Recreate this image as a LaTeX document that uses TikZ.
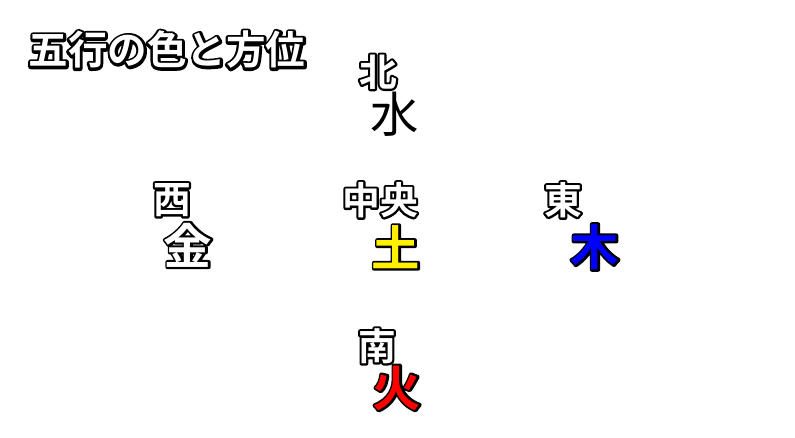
\documentclass[tikz,border=0pt]{standalone}
\usepackage{fontspec}
\newfontfamily\jp{Noto Sans CJK JP}[BoldFont={Noto Sans CJK JP Bold}]
% outlined text: black stroke of width #2 (bp) under a fill in #1
\newcommand\outl[3]{\rlap{\color{black}\special{pdf:literal direct 0 0 0 RG #2 w 1 j 2 Tr}#3\special{pdf:literal direct 0 Tr}}{\color{#1}#3}}
\definecolor{tsuchiyellow}{RGB}{255,240,0}
\definecolor{kiblue}{RGB}{0,0,255}
\definecolor{hired}{RGB}{255,0,0}

\begin{document}
\begin{tikzpicture}[x=0.02cm, y=-0.02cm]
	\tikzstyle{houi} = [inner sep=0pt, font=\jp\bfseries\fontsize{21.5}{21.5}\selectfont]
	\tikzstyle{gyou} = [inner sep=0pt, font=\jp\bfseries\fontsize{27.5}{27.5}\selectfont]
	\useasboundingbox (0,0) rectangle (795,438);

	\node[houi, font=\jp\bfseries\fontsize{22.5}{22.5}\selectfont] (title) at (167,50) {\outl{white}{3}{五行の色と方位}};

	\foreach \name/\x/\y/\txt in {kita/378/72/北, nishi/172/200/西, chuo/380/200/中央, higashi/563/200/東, minami/377/346/南}
		\node[houi] (\name) at (\x, \y) {\outl{white}{2.4}{\txt}};

	\node[gyou, font=\jp\fontsize{27.5}{27.5}\selectfont, text=black] (mizu) at (395, 114) {水};
	\foreach \name/\x/\y/\txt/\col in {kin/188/245/金/white, tsuchi/396/247/土/tsuchiyellow, ki/595/247/木/kiblue, hi/397/388/火/hired}
		\node[gyou] (\name) at (\x, \y) {\outl{\col}{2.4}{\txt}};
\end{tikzpicture}
\end{document}
